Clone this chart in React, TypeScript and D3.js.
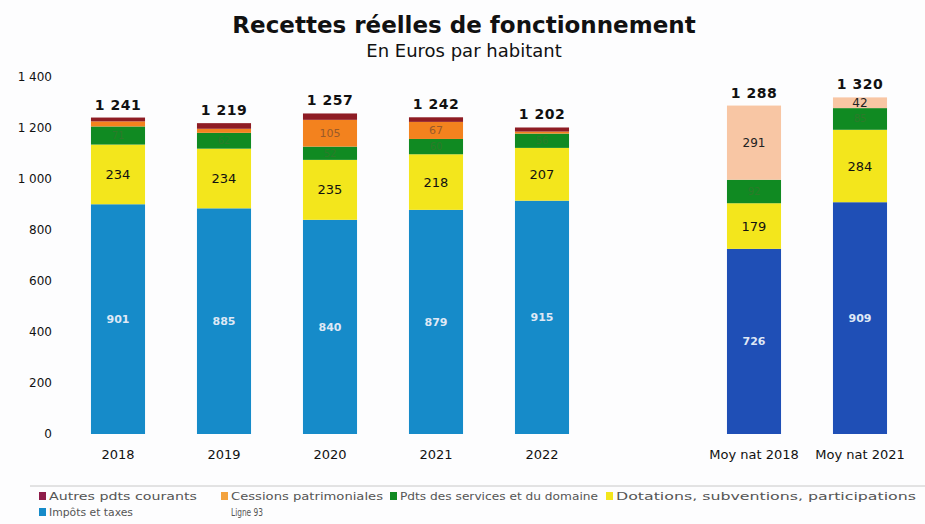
import React from "react";
import * as d3 from "d3";

const categories = ["2018", "2019", "2020", "2021", "2022", "Moy nat 2018", "Moy nat 2021"];
const impots = [901, 885, 840, 879, 915, 726, 909];
const dotations = [234, 234, 235, 218, 207, 179, 284];
const pdtsServices = [71, 62, 52, 60, 56, 92, 85];
const cessions = [20, 16, 105, 67, 8, 0, 0];
const autres = [15, 22, 25, 18, 16, 0, 0];
const ligne93 = [0, 0, 0, 0, 0, 291, 42];
const totals = [1241, 1219, 1257, 1242, 1202, 1288, 1320];
const yTicks = [0, 200, 400, 600, 800, 1000, 1200, 1400];

const W = 925;
const H = 524;
const FONT = "'DejaVu Sans', Verdana, sans-serif";

type Seg = { key: string; values: number[]; color: (i: number) => string; label: (i: number, v: number) => string | null; textColor: string; size: number; weight: number };

const isNat = (i: number) => categories[i].startsWith("Moy");

const segments: Seg[] = [
  { key: "Impôts et taxes", values: impots, color: (i) => (isNat(i) ? "#1f4fb6" : "#168bc9"), label: (_i, v) => String(v), textColor: "#dfe8f5", size: 11, weight: 700 },
  { key: "Dotations, subventions, participations", values: dotations, color: () => "#f3e61c", label: (_i, v) => String(v), textColor: "#111", size: 13, weight: 400 },
  { key: "Pdts des services et du domaine", values: pdtsServices, color: () => "#108a22", label: (_i, v) => String(v), textColor: "#2c7a2a", size: 10, weight: 400 },
  { key: "Cessions patrimoniales", values: cessions, color: () => "#f3821e", label: (_i, v) => (v > 40 ? String(v) : null), textColor: "#9a5a2a", size: 11, weight: 400 },
  { key: "Autres pdts courants", values: autres, color: () => "#8e1c24", label: () => null, textColor: "#fff", size: 10, weight: 400 },
  { key: "Ligne 93", values: ligne93, color: () => "#f8c6a4", label: (_i, v) => String(v), textColor: "#222", size: 12, weight: 400 },
];

const fmt = (v: number) => {
  const s = String(v);
  return s.length > 3 ? s.slice(0, s.length - 3) + " " + s.slice(-3) : s;
};

const legendRow1 = [
  { name: "Autres pdts courants", color: "#8e1c4a", x: 39, w: 148 },
  { name: "Cessions patrimoniales", color: "#f3a23e", x: 221, w: 152 },
  { name: "Pdts des services et du domaine", color: "#108a22", x: 390, w: 198 },
  { name: "Dotations, subventions, participations", color: "#f3e61c", x: 606, w: 300 },
];
const legendRow2 = [
  { name: "Impôts et taxes", color: "#168bc9", x: 39, w: 84 },
  { name: "Ligne 93", color: "none", x: 221, w: 32 },
];

export default function App() {
  const domain = [...categories.slice(0, 5), "__gap__", ...categories.slice(5)];
  const x = d3.scaleBand<string>().domain(domain).range([65, 913]).paddingInner(0.49).paddingOuter(0.245);
  const y = d3.scaleLinear().domain([0, 1400]).range([434, 77]);
  const bw = x.bandwidth();

  const bars: React.ReactNode[] = [];
  const labels: React.ReactNode[] = [];
  categories.forEach((c, i) => {
    let base = 0;
    const x0 = x(c)!;
    segments.forEach((s) => {
      const v = s.values[i];
      if (v <= 0) return;
      const y0 = y(base);
      const y1 = y(base + v);
      bars.push(<rect key={c + s.key} x={x0} y={y1} width={bw} height={y0 - y1} fill={s.color(i)} />);
      const lab = s.label(i, v);
      if (lab) {
        labels.push(
          <text key={"l" + c + s.key} x={x0 + bw / 2} y={(y0 + y1) / 2} dy="0.35em" textAnchor="middle" fontSize={s.size} fontWeight={s.weight} fill={s.textColor} fontFamily={FONT}>
            {lab}
          </text>
        );
      }
      base += v;
    });
    labels.push(
      <text key={"t" + c} x={x0 + bw / 2} y={y(totals[i]) - 8} textAnchor="middle" fontSize={14} fontWeight={700} fill="#111" fontFamily={FONT} letterSpacing={0.5}>
        {fmt(totals[i])}
      </text>
    );
    labels.push(
      <text key={"x" + c} x={x0 + bw / 2} y={459} textAnchor="middle" fontSize={13} fill="#111" fontFamily={FONT}>
        {c}
      </text>
    );
  });

  return (
    <svg width={W} height={H} style={{ position: "absolute", left: 0, top: 0, background: "#fdfdfe" }}>
      <text x={464} y={33} textAnchor="middle" fontSize={23} fontWeight={700} fill="#111" fontFamily={FONT}>
        Recettes réelles de fonctionnement
      </text>
      <text x={464} y={57} textAnchor="middle" fontSize={18} fill="#111" fontFamily={FONT}>
        En Euros par habitant
      </text>
      {yTicks.map((t) => (
        <text key={t} x={52} y={y(t)} dy="0.35em" textAnchor="end" fontSize={12} fill="#111" fontFamily={FONT}>
          {fmt(t)}
        </text>
      ))}
      {bars}
      {labels}
      <line x1={30} x2={925} y1={486} y2={486} stroke="#c8c8c8" strokeWidth={1} />
      {legendRow1.map((l) => (
        <g key={l.name}>
          <rect x={l.x} y={492} width={7} height={8} fill={l.color} />
          <text x={l.x + 10} y={500} fontSize={11} fill="#555" fontFamily={FONT} textLength={l.w} lengthAdjust="spacingAndGlyphs">
            {l.name}
          </text>
        </g>
      ))}
      {legendRow2.map((l) => (
        <g key={l.name}>
          {l.color !== "none" && <rect x={l.x} y={508} width={7} height={8} fill={l.color} />}
          <text x={l.x + 10} y={516} fontSize={11} fill="#555" fontFamily={FONT} textLength={l.w} lengthAdjust="spacingAndGlyphs">
            {l.name}
          </text>
        </g>
      ))}
    </svg>
  );
}
